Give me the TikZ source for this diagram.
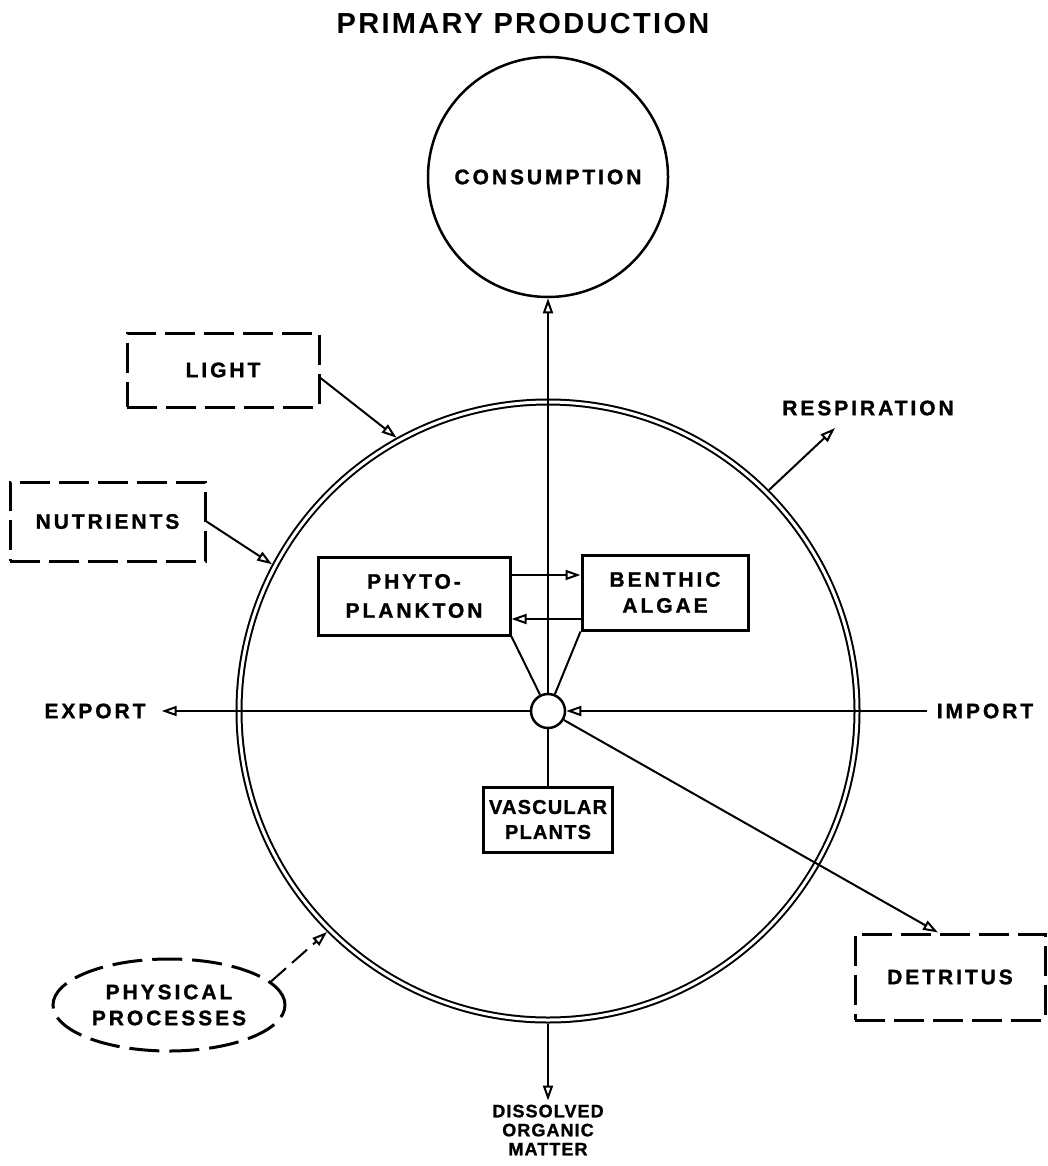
\documentclass[tikz,border=0pt]{standalone}
\usepackage{fontspec}
\setmainfont{Liberation Sans}
\newfontfamily\labfont{Liberation Sans Bold}[LetterSpace=14, FakeBold=1.2]
\newfontfamily\vasfont{Liberation Sans Bold}[LetterSpace=6, FakeBold=1.2]
\newfontfamily\ttlfont{Liberation Sans Bold}[LetterSpace=8]
\usetikzlibrary{arrows.meta,shapes.geometric}
\tikzset{
  lab/.style={font=\labfont\fontsize{21}{26}\selectfont, inner sep=0pt, align=center},
  solidbox/.style={lab, draw, line width=3pt, rectangle},
  dashbox/.style={lab, draw, line width=3pt, rectangle, dash pattern=on 30pt off 9pt},
  conn/.style={line width=2pt},
  arr/.style={-{Triangle[length=15pt,width=10pt,fill=white,line width=2pt]}},
}
\begin{document}
\begin{tikzpicture}[x=1pt,y=-1pt]
\useasboundingbox (0,0) rectangle (1048,1166);
% title
\node[font=\ttlfont\fontsize{29}{32}\selectfont, inner sep=0pt] (title) at (523,24) {PRIMARY PRODUCTION};
% main elements
\node[lab, circle, draw, line width=2.5pt, minimum size=240pt] (cons) at (548,177) {CONSUMPTION};
\node[circle, draw, double, double distance=3pt, line width=2pt, minimum size=618pt, inner sep=0pt, outer sep=3.5pt] (main) at (548,711) {};
\node[solidbox, minimum width=192pt, minimum height=78pt, font=\labfont\fontsize{21}{29}\selectfont] (phyto) at (414,596) {PHYTO-\\PLANKTON};
\node[solidbox, minimum width=166pt, minimum height=75pt] (benthic) at (665,592.5) {BENTHIC\\ALGAE};
\node[solidbox, minimum width=129pt, minimum height=65pt, font=\vasfont\fontsize{20}{25}\selectfont] (vasc) at (548,819.5) {VASCULAR\\PLANTS};
\node[dashbox, minimum width=192pt, minimum height=74pt] (light) at (223,370) {LIGHT};
\node[dashbox, minimum width=195pt, minimum height=79pt] (nutr) at (107.5,521.5) {NUTRIENTS};
\node[dashbox, minimum width=190pt, minimum height=86pt] (detr) at (950,977) {DETRITUS};
\node[lab, ellipse, draw, line width=3pt, dash pattern=on 30pt off 10pt, minimum width=232pt, minimum height=92pt] (phys) at (169,1005) {PHYSICAL\\PROCESSES};
\node[lab] (export) at (95,711) {EXPORT};
\node[lab] (import) at (985,711) {IMPORT};
\node[lab] (resp) at (868,408) {RESPIRATION};
\node[lab, font=\vasfont\fontsize{18}{19}\selectfont] (dom) at (548,1130) {DISSOLVED\\ORGANIC\\MATTER};
\coordinate (respTip) at (835,428);
% hub
\node[circle, draw, line width=2.5pt, fill=white, minimum size=34pt, inner sep=0pt] (hub) at (548,711) {};
% connectors
\draw[conn, arr] (hub.north) -- (cons.south);
\draw[conn, arr] (hub.west) -- ([xshift=16pt]export.east);
\draw[conn, arr] ([xshift=-10pt]import.west) -- (hub.east);
\draw[conn] (hub.south) -- (vasc.north);
\draw[conn] (phyto.south east) -- (hub);
\draw[conn] (benthic.south west) -- (hub);
\draw[conn, arr] ([yshift=21pt]phyto.east) -- ([yshift=21pt]phyto.east -| benthic.west);
\draw[conn, arr] ([yshift=-23pt]phyto.east -| benthic.west) -- ([yshift=-23pt]phyto.east);
\draw[conn, arr] (hub) -- ([xshift=-12pt]detr.north);
\draw[conn, arr] ([yshift=-8pt]light.east) -- (main.119.6);
\draw[conn, arr] (nutr.east) -- (main.152);
\draw[conn, arr, dash pattern=on 20pt off 8pt] (phys.13) -- (main.225.6);
\draw[conn, arr] (main.45) -- (respTip);
\draw[conn, arr] (main.south) -- ([yshift=4pt]dom.north);
\end{tikzpicture}
\end{document}
